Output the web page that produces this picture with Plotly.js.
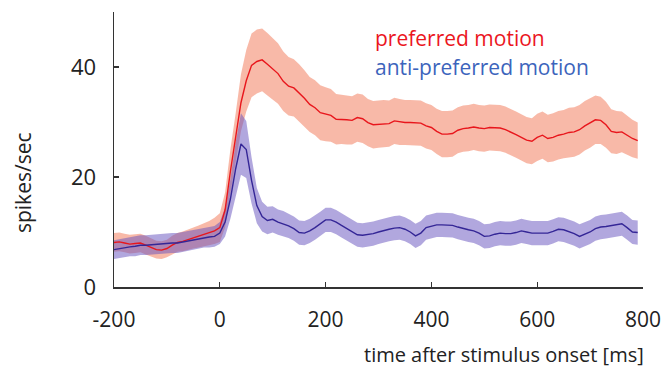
<!DOCTYPE html>
<html>
<head>
<meta charset="utf-8">
<script src="https://cdn.plot.ly/plotly-3.0.1.min.js"></script>
<style>html,body{margin:0;padding:0;background:#fff;}#chart{width:667px;height:368px;}</style>
</head>
<body>
<div id="chart"></div>
<script>
// time (ms), 10 ms bins from -200 to 790
const timeMs = [];
for (let t = -200; t <= 790; t += 10) timeMs.push(t);

const preferredMean = [
  8.1, 8.2, 8.0, 7.8, 7.9, 8.0, 7.6, 7.2, 6.8, 6.7,
  7.0, 7.6, 8.1, 8.3, 8.6, 8.9, 9.2, 9.5, 9.8, 10.2,
  10.8, 14.0, 21.0, 27.0, 33.5, 37.5, 40.3, 41.0, 41.3, 40.5,
  39.6, 38.8, 37.4, 36.5, 36.2, 35.3, 34.3, 33.2, 32.6, 31.7,
  31.4, 31.2, 30.5, 30.5, 30.4, 30.3, 30.8, 30.6, 29.9, 29.5,
  29.6, 29.7, 29.7, 30.2, 30.0, 29.9, 29.9, 29.9, 29.8, 29.3,
  29.0, 28.3, 27.8, 27.8, 27.9, 28.5, 28.8, 28.9, 29.1, 28.9,
  28.8, 29.0, 28.9, 28.9, 28.6, 28.2, 27.7, 27.2, 26.7, 26.5,
  27.2, 27.6, 27.0, 27.2, 27.6, 27.8, 28.1, 28.2, 28.6, 29.3,
  29.8, 30.4, 30.3, 29.5, 28.3, 28.1, 28.2, 27.6, 27.0, 26.6
];
const preferredSem = [
  1.7, 1.7, 1.7, 1.7, 1.7, 1.7, 1.7, 1.6, 1.6, 1.6,
  1.6, 1.7, 1.7, 1.8, 1.8, 1.9, 2.0, 2.1, 2.2, 2.4,
  2.6, 3.2, 4.0, 4.6, 5.2, 5.6, 5.8, 5.8, 5.7, 5.7,
  5.6, 5.5, 5.4, 5.3, 5.2, 5.2, 5.1, 5.0, 5.0, 5.0,
  4.9, 4.8, 4.6, 4.5, 4.5, 4.4, 4.4, 4.4, 4.3, 4.3,
  4.3, 4.3, 4.2, 4.2, 4.2, 4.1, 4.1, 4.1, 4.1, 4.1,
  4.1, 4.1, 4.2, 4.2, 4.2, 4.2, 4.2, 4.2, 4.2, 4.2,
  4.2, 4.2, 4.2, 4.2, 4.2, 4.2, 4.2, 4.2, 4.2, 4.2,
  4.3, 4.3, 4.3, 4.4, 4.4, 4.4, 4.5, 4.5, 4.5, 4.5,
  4.5, 4.4, 4.3, 4.2, 4.0, 3.9, 3.7, 3.6, 3.4, 3.3
];

const antiMean = [
  6.8, 7.0, 7.1, 7.3, 7.4, 7.6, 7.6, 7.7, 7.8, 7.9,
  7.9, 8.0, 8.0, 8.2, 8.4, 8.6, 8.8, 9.0, 9.1, 9.2,
  9.8, 11.8, 16.0, 21.5, 26.0, 25.0, 19.4, 14.8, 12.8, 12.1,
  12.3, 11.8, 11.5, 11.1, 10.6, 9.9, 9.8, 10.2, 10.8, 11.5,
  12.2, 12.2, 11.8, 11.2, 10.6, 10.0, 9.5, 9.4, 9.5, 9.7,
  10.0, 10.3, 10.5, 10.7, 10.8, 10.5, 10.0, 9.3, 9.8, 10.8,
  11.1, 11.3, 11.3, 11.2, 11.2, 10.9, 10.6, 10.4, 10.2, 9.8,
  9.2, 9.3, 9.6, 9.8, 9.7, 9.7, 9.9, 10.2, 10.0, 9.8,
  9.8, 9.8, 9.8, 10.1, 10.5, 10.4, 10.1, 9.7, 9.2, 9.6,
  10.0, 10.6, 10.9, 11.0, 11.2, 11.3, 11.5, 10.8, 10.0, 9.9
];
const antiSem = [
  1.7, 1.7, 1.7, 1.7, 1.8, 1.8, 1.8, 1.8, 1.8, 1.8,
  1.8, 1.8, 1.8, 1.8, 1.8, 1.8, 1.8, 1.8, 1.9, 1.9,
  2.0, 2.6, 3.6, 4.8, 5.6, 5.2, 4.2, 3.2, 2.7, 2.5,
  2.4, 2.3, 2.3, 2.2, 2.2, 2.2, 2.2, 2.2, 2.2, 2.2,
  2.2, 2.2, 2.2, 2.2, 2.2, 2.2, 2.2, 2.2, 2.2, 2.2,
  2.2, 2.2, 2.2, 2.2, 2.2, 2.2, 2.2, 2.2, 2.2, 2.2,
  2.2, 2.2, 2.2, 2.2, 2.2, 2.2, 2.2, 2.2, 2.2, 2.2,
  2.2, 2.2, 2.2, 2.2, 2.2, 2.2, 2.2, 2.2, 2.2, 2.2,
  2.2, 2.2, 2.2, 2.2, 2.2, 2.2, 2.2, 2.2, 2.2, 2.2,
  2.2, 2.2, 2.2, 2.2, 2.2, 2.2, 2.2, 2.2, 2.2, 2.2
];

const xTickVals = [-200, 0, 200, 400, 600, 800];
const xTickText = ['-200', '0', '200', '400', '600', '800'];
const yTickVals = [0, 20, 40];
const yTickText = ['0', '20', '40'];

function band(mean, sem, color) {
  const upper = mean.map((m, i) => m + sem[i]);
  const lower = mean.map((m, i) => m - sem[i]);
  return [
    {x: timeMs, y: lower, mode: 'lines', line: {width: 0}, hoverinfo: 'skip', showlegend: false},
    {x: timeMs, y: upper, mode: 'lines', line: {width: 0}, fill: 'tonexty', fillcolor: color, hoverinfo: 'skip', showlegend: false}
  ];
}

const FONT = 'Open Sans, Noto Sans, sans-serif';
const data = [
  ...band(preferredMean, preferredSem, 'rgba(242,120,88,0.52)'),
  ...band(antiMean, antiSem, 'rgba(100,80,190,0.5)'),
  {x: timeMs, y: preferredMean, mode: 'lines', line: {color: 'rgb(232,22,28)', width: 1.4}, showlegend: false},
  {x: timeMs, y: antiMean, mode: 'lines', line: {color: 'rgb(52,38,150)', width: 1.4}, showlegend: false}
];

const layout = {
  width: 667, height: 368,
  margin: {l: 114, r: 24, t: 12, b: 81},
  paper_bgcolor: '#fff', plot_bgcolor: '#fff',
  showlegend: false,
  font: {family: FONT, color: '#222', size: 21},
  xaxis: {
    range: [-200, 800], tickvals: xTickVals, ticktext: xTickText,
    showgrid: false, zeroline: false, showline: true, linecolor: '#333', linewidth: 1.5,
    ticks: 'inside', ticklen: 5, tickwidth: 1.2, tickcolor: '#333',
    ticklabelstandoff: 13, tickfont: {size: 21, family: FONT, color: '#222'}
  },
  yaxis: {
    range: [0, 50], tickvals: yTickVals, ticktext: yTickText,
    showgrid: false, zeroline: false, showline: true, linecolor: '#333', linewidth: 1.5,
    ticks: 'inside', ticklen: 5, tickwidth: 1.2, tickcolor: '#333',
    ticklabelstandoff: 12, tickfont: {size: 22, family: FONT, color: '#222'}
  },
  annotations: [
    {text: 'time after stimulus onset [ms]', xref: 'paper', yref: 'paper', x: 1.005, y: -0.245,
     xanchor: 'right', yanchor: 'middle', showarrow: false, font: {size: 20, family: FONT, color: '#222'}},
    {text: 'spikes/sec', xref: 'paper', yref: 'paper', x: -0.172, y: 0.378, textangle: -90,
     xanchor: 'center', yanchor: 'middle', showarrow: false, font: {size: 21, family: FONT, color: '#222'}},
    {text: 'preferred motion', xref: 'paper', yref: 'paper', x: 0.49, y: 0.905,
     xanchor: 'left', yanchor: 'middle', showarrow: false, font: {size: 21, family: FONT, color: 'rgb(235,22,30)'}},
    {text: 'anti-preferred motion', xref: 'paper', yref: 'paper', x: 0.49, y: 0.80,
     xanchor: 'left', yanchor: 'middle', showarrow: false, font: {size: 21, family: FONT, color: 'rgb(60,100,188)'}}
  ]
};

Plotly.newPlot('chart', data, layout, {displayModeBar: false, staticPlot: true});
</script>
</body>
</html>
